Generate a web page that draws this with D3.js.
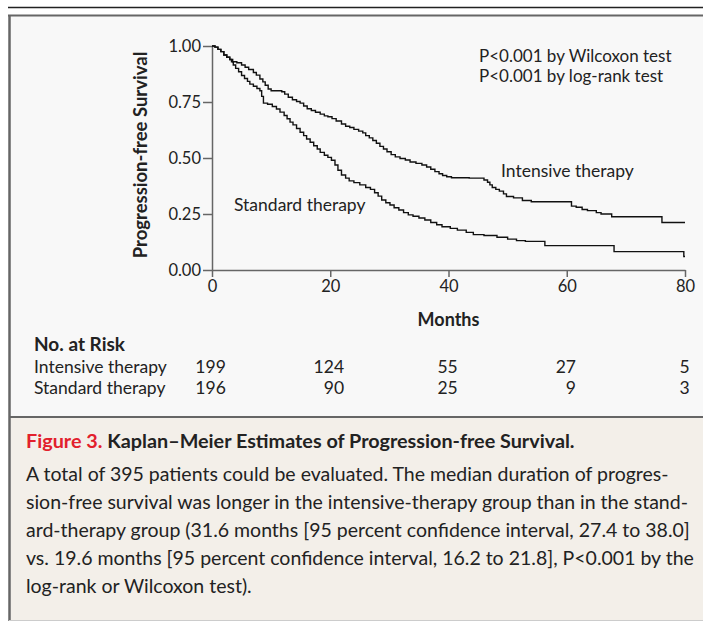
<!DOCTYPE html>
<html>
<head>
<meta charset="utf-8">
<script src="https://cdn.jsdelivr.net/npm/d3@7"></script>
<style>
  body { margin: 0; background: #fff; }
  svg text { font-family: Lato, "Open Sans", sans-serif; fill: #222; }
</style>
</head>
<body>
<div id="main"></div>
<script>
(function(){

  // Kaplan-Meier steps: [months, survival]
  const intensive = [
    [0, 1.00], [0.5, 0.995], [1.0, 0.985], [1.5, 0.975], [2.0, 0.96], [2.5, 0.95],
    [3.0, 0.94], [3.5, 0.93], [4.2, 0.925], [5.0, 0.915], [5.6, 0.905], [6.2, 0.895],
    [7.0, 0.882], [7.5, 0.87], [8.1, 0.853], [8.6, 0.84], [9.0, 0.825], [9.5, 0.808],
    [10.0, 0.80], [11.8, 0.796], [12.3, 0.785], [12.9, 0.771], [13.6, 0.76], [14.3, 0.752],
    [14.9, 0.745], [15.5, 0.732], [16.1, 0.72], [16.8, 0.712], [17.5, 0.704], [18.3, 0.696],
    [19.0, 0.688], [19.6, 0.684], [20.3, 0.676], [21.0, 0.665], [21.9, 0.652], [22.6, 0.642],
    [23.3, 0.636], [24.0, 0.628], [24.8, 0.62], [25.5, 0.612], [26.0, 0.60], [26.6, 0.59],
    [27.2, 0.578], [27.8, 0.566], [28.4, 0.552], [29.0, 0.54], [29.6, 0.528], [30.3, 0.515],
    [31.0, 0.505], [31.8, 0.498], [32.7, 0.491], [33.5, 0.482], [34.5, 0.476], [35.5, 0.469],
    [36.3, 0.46], [37.0, 0.45], [37.7, 0.439], [38.4, 0.43], [39.0, 0.422], [39.7, 0.416],
    [40.5, 0.412], [43.5, 0.41], [46.0, 0.402], [46.6, 0.392], [47.0, 0.38], [47.4, 0.368],
    [48.0, 0.36], [48.6, 0.352], [49.3, 0.34], [49.8, 0.328], [51.0, 0.322], [52.5, 0.31],
    [54.0, 0.305], [60.8, 0.285], [61.6, 0.28], [62.6, 0.27], [63.5, 0.265], [65.0, 0.256],
    [65.8, 0.25], [67.6, 0.238], [76.1, 0.212], [80.0, 0.212]
  ]

  const standard = [
    [0, 1.00], [0.5, 0.995], [1.0, 0.985], [1.5, 0.975], [2.0, 0.96], [2.5, 0.95],
    [3.0, 0.94], [3.3, 0.93], [3.6, 0.915], [4.0, 0.90], [4.5, 0.885], [5.0, 0.868],
    [5.5, 0.855], [6.0, 0.842], [6.4, 0.83], [7.0, 0.82], [7.6, 0.81], [8.1, 0.80],
    [8.4, 0.775], [8.7, 0.745], [9.4, 0.74], [10.2, 0.73], [10.9, 0.719], [11.5, 0.705],
    [12.2, 0.69], [12.7, 0.675], [13.2, 0.66], [13.7, 0.648], [14.3, 0.632], [14.9, 0.615],
    [15.5, 0.60], [16.0, 0.585], [16.6, 0.57], [17.2, 0.555], [17.8, 0.54], [18.3, 0.525],
    [19.0, 0.512], [19.6, 0.503], [20.2, 0.49], [20.8, 0.469], [21.3, 0.445], [21.9, 0.424],
    [22.6, 0.41], [23.2, 0.398], [24.0, 0.39], [25.0, 0.38], [26.0, 0.368], [26.8, 0.36],
    [27.5, 0.345], [28.1, 0.33], [28.7, 0.3125], [29.4, 0.30], [30.1, 0.29], [30.8, 0.278],
    [31.6, 0.268], [32.4, 0.256], [33.2, 0.246], [34.0, 0.24], [35.0, 0.232], [36.0, 0.223],
    [37.0, 0.212], [38.0, 0.202], [38.9, 0.193], [40.3, 0.186], [41.5, 0.178], [43.0, 0.168],
    [44.2, 0.158], [46.0, 0.154], [48.2, 0.146], [50.0, 0.138], [51.5, 0.131], [53.0, 0.128],
    [56.3, 0.109], [68.0, 0.082], [79.8, 0.06], [80.0, 0.06]
  ]

  const xTicks = [0, 20, 40, 60, 80]
  const yTicks = [0, 0.25, 0.5, 0.75, 1]
  const riskGroups = ["Intensive therapy", "Standard therapy"]
  const riskIntensive = [199, 124, 55, 27, 5]
  const riskStandard = [196, 90, 25, 9, 3]
  const pValues = ["P<0.001 by Wilcoxon test", "P<0.001 by log-rank test"]
  const captionTitle = "Kaplan\u2013Meier Estimates of Progression-free Survival."
  const captionLines = [
    "A total of 395 patients could be evaluated. The median duration of progres-",
    "sion-free survival was longer in the intensive-therapy group than in the stand-",
    "ard-therapy group (31.6 months [95 percent confidence interval, 27.4 to 38.0]",
    "vs. 19.6 months [95 percent confidence interval, 16.2 to 21.8], P<0.001 by the",
    "log-rank or Wilcoxon test)."
  ]

  const width = 703
  const height = 622
  const plot = { left: 212, right: 685, top: 46, bottom: 270 }

  const svg = d3.select("#main").append("svg")
    .attr("width", width)
    .attr("height", height)

  // frame: top rule, chart panel, caption panel
  svg.append("rect").attr("x", 9).attr("y", 15).attr("width", width).attr("height", 402)
    .attr("fill", "#f8f8f8")
  svg.append("rect").attr("x", 9).attr("y", 417).attr("width", width).attr("height", 203)
    .attr("fill", "#f3efe9")
  svg.append("line").attr("x1", 8).attr("x2", width).attr("y1", 7.5).attr("y2", 7.5)
    .attr("stroke", "#222").attr("stroke-width", 1.5)
  svg.append("line").attr("x1", 8).attr("x2", width).attr("y1", 15.5).attr("y2", 15.5)
    .attr("stroke", "#666").attr("stroke-width", 2)
  svg.append("line").attr("x1", 9.5).attr("x2", 9.5).attr("y1", 15).attr("y2", 621)
    .attr("stroke", "#666").attr("stroke-width", 2.5)
  svg.append("line").attr("x1", 9).attr("x2", width).attr("y1", 417).attr("y2", 417)
    .attr("stroke", "#666").attr("stroke-width", 2)
  svg.append("line").attr("x1", 9).attr("x2", width).attr("y1", 620.5).attr("y2", 620.5)
    .attr("stroke", "#ccc").attr("stroke-width", 1)

  const xScale = d3.scaleLinear()
    .domain([0, 80])
    .range([plot.left, plot.right])

  const yScale = d3.scaleLinear()
    .domain([0, 1])
    .range([plot.bottom, plot.top])

  const xAxis = d3.axisBottom(xScale)
    .tickValues(xTicks)
    .tickSize(7)
    .tickSizeOuter(0)
    .tickPadding(3)

  const yAxis = d3.axisLeft(yScale)
    .tickValues(yTicks)
    .tickFormat(d3.format(".2f"))
    .tickSize(9)
    .tickSizeOuter(0)
    .tickPadding(2)

  const gx = svg.append("g")
    .attr("transform", `translate(0,${plot.bottom})`)
    .call(xAxis)

  const gy = svg.append("g")
    .attr("transform", `translate(${plot.left},0)`)
    .call(yAxis)

  ;[gx, gy].forEach(g => {
    g.select(".domain").attr("stroke", "#666").attr("stroke-width", 1.5)
    g.selectAll(".tick line").attr("stroke", "#666").attr("stroke-width", 1.5)
    g.selectAll(".tick text")
      .attr("font-family", "Lato, sans-serif")
      .attr("font-size", 16.5)
      .attr("fill", "#222")
  })

  const line = d3.line()
    .curve(d3.curveStepAfter)
    .x(d => xScale(d[0]))
    .y(d => yScale(d[1]))

  ;[intensive, standard].forEach(series => {
    svg.append("path")
      .datum(series)
      .attr("fill", "none")
      .attr("stroke", "#111")
      .attr("stroke-width", 1.4)
      .attr("d", line)
  })

  // labels
  svg.append("text")
    .attr("transform", `translate(147,155) rotate(-90)`)
    .attr("text-anchor", "middle")
    .attr("font-size", 18.5)
    .attr("font-weight", "bold")
    .text("Progression-free Survival")

  svg.append("text")
    .attr("x", xScale(40)).attr("y", 326)
    .attr("text-anchor", "middle")
    .attr("font-size", 18)
    .attr("font-weight", "bold")
    .text("Months")

  svg.append("text")
    .attr("x", 501).attr("y", 177)
    .attr("font-size", 17.5)
    .text("Intensive therapy")

  svg.append("text")
    .attr("x", 234).attr("y", 211)
    .attr("font-size", 17.5)
    .text("Standard therapy")

  svg.selectAll("text.pval")
    .data(pValues)
    .join("text")
    .attr("class", "pval")
    .attr("x", 479)
    .attr("y", (d, i) => 62 + i * 20)
    .attr("font-size", 17)
    .text(d => d)

  // number at risk
  svg.append("text")
    .attr("x", 34).attr("y", 351)
    .attr("font-size", 19)
    .attr("font-weight", "bold")
    .text("No. at Risk")

  svg.selectAll("text.group")
    .data(riskGroups)
    .join("text")
    .attr("class", "group")
    .attr("x", 34)
    .attr("y", (d, i) => 373 + i * 21)
    .attr("font-size", 17.5)
    .text(d => d)

  // columns are right-aligned: the right edge sits half the top number's width past the tick
  const charW = 9.2
  const colRight = riskIntensive.map((v, i) => xScale(xTicks[i]) + String(v).length * charW / 2)

  svg.selectAll("text.riskI")
    .data(riskIntensive)
    .join("text")
    .attr("class", "riskI")
    .attr("x", (d, i) => colRight[i])
    .attr("y", 373)
    .attr("text-anchor", "end")
    .attr("font-size", 17.5)
    .text(d => d)

  svg.selectAll("text.riskS")
    .data(riskStandard)
    .join("text")
    .attr("class", "riskS")
    .attr("x", (d, i) => colRight[i])
    .attr("y", 394)
    .attr("text-anchor", "end")
    .attr("font-size", 17.5)
    .text(d => d)

  // caption
  const title = svg.append("text")
    .attr("x", 26).attr("y", 448)
    .attr("font-size", 19.8)
    .attr("font-weight", "bold")
  title.append("tspan").attr("fill", "#e2202c").text("Figure 3. ")
  title.append("tspan").attr("fill", "#222").text(captionTitle)

  svg.selectAll("text.cap")
    .data(captionLines)
    .join("text")
    .attr("class", "cap")
    .attr("x", 26)
    .attr("y", (d, i) => 481 + i * 28)
    .attr("font-size", 19.5)
    .text(d => d)
}())
</script>
</body>
</html>
